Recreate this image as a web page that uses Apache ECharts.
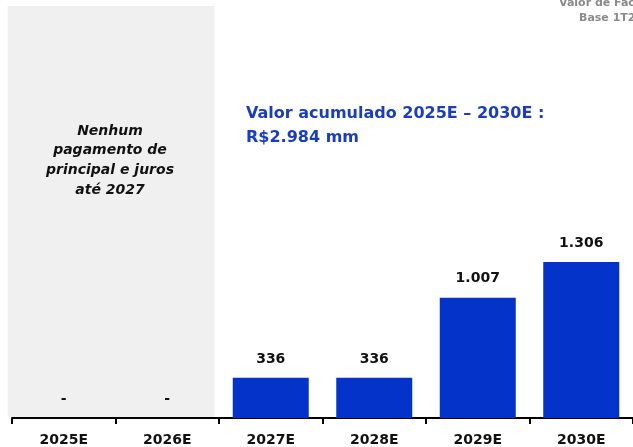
<!DOCTYPE html>
<html>
<head>
<meta charset="utf-8">
<script src="https://cdn.jsdelivr.net/npm/echarts@6/dist/echarts.min.js"></script>
<style>
  html, body { margin: 0; padding: 0; background: #fff; }
  #chart { width: 633px; height: 447px; }
</style>
</head>
<body>
<div id="chart"></div>
<script>
// dados
var years = ['2025E', '2026E', '2027E', '2028E', '2029E', '2030E'];
var payments = [0, 0, 336, 336, 1007, 1306];
var totalNote = ['Valor acumulado 2025E \u2013 2030E :', 'R$2.984 mm'];
var greyNote = ['Nenhum', 'pagamento de', 'principal e juros', 'at\u00e9 2027'];
var cornerNote = ['Valor de Face', 'Base 1T25'];

var FONT = '"DejaVu Sans", Verdana, sans-serif';
var BLUE = '#0433c9';

function fmt(v) {
    if (!v) return '-';
    return String(v).replace(/\B(?=(\d{3})+(?!\d))/g, '.');
}

var myChart = echarts.init(document.getElementById('chart'));

var option = {
    animation: false,
    grid: { left: 12, top: 6, width: 625, bottom: 29 },
    xAxis: {
        type: 'category',
        data: years,
        axisLine: { lineStyle: { color: '#000', width: 2 } },
        axisTick: { show: true, length: 6, lineStyle: { color: '#000', width: 2 } },
        axisLabel: { color: '#111', fontFamily: FONT, fontWeight: 'bold', fontSize: 14, margin: 15 }
    },
    yAxis: { type: 'value', min: 0, max: 3450, show: false, splitLine: { show: false } },
    series: [{
        type: 'bar',
        data: payments,
        barWidth: 76,
        itemStyle: { color: BLUE },
        z: 5,
        label: {
            show: true,
            position: 'top',
            distance: 12,
            color: '#111',
            fontFamily: FONT,
            fontWeight: 'bold',
            fontSize: 14,
            formatter: function (p) { return fmt(p.value); }
        }
    }]
};
myChart.setOption(option);

// faixa cinza sobre 2025E-2026E
var band = 625 / years.length;
var x0 = myChart.convertToPixel({ xAxisIndex: 0 }, years[0]) - band / 2 - 4;
var x1 = myChart.convertToPixel({ xAxisIndex: 0 }, years[1]) + band / 2 - 5;
var yBase = myChart.convertToPixel({ yAxisIndex: 0 }, 0);

myChart.setOption({
    graphic: [
        { type: 'rect', z: 0, shape: { x: x0, y: 6, width: x1 - x0, height: yBase - 7 }, style: { fill: '#f0f0f0' } },
        {
            type: 'text', z: 100, x: 110, y: 121,
            style: {
                text: greyNote.join('\n'), align: 'center',
                fill: '#111', font: 'italic bold 14px ' + FONT, lineHeight: 19.8
            }
        },
        {
            type: 'text', z: 100, left: 246, top: 102,
            style: { text: totalNote.join('\n'), fill: '#1a3cc0', font: 'bold 16px ' + FONT, lineHeight: 24 }
        },
        {
            type: 'text', z: 100, left: 559, top: -2,
            style: { text: cornerNote[0], fill: '#8a8a8a', font: 'bold 11px ' + FONT }
        },
        {
            type: 'text', z: 100, left: 579, top: 13,
            style: { text: cornerNote[1], fill: '#8a8a8a', font: 'bold 11px ' + FONT }
        }
    ]
});
</script>
</body>
</html>
